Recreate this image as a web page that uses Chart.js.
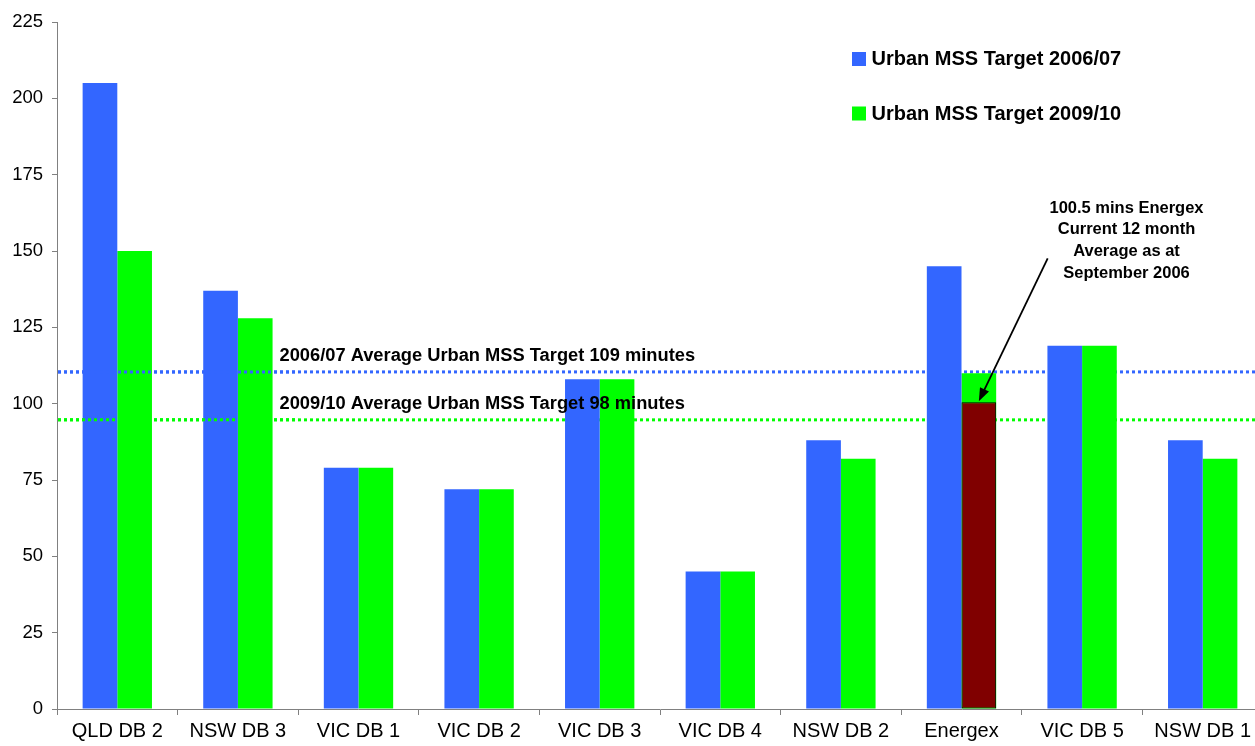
<!DOCTYPE html>
<html>
    <head>
        <meta charset="UTF-8"/>
        <script src="https://cdn.jsdelivr.net/npm/chart.js@4.4.1/dist/chart.umd.min.js"></script>
        <style>
            html, body { margin:0; padding:0; overflow:hidden; background:#fff; }
            canvas { display:block; }
        </style>
    </head>
    <body>
        <canvas id="chart" width="1270" height="746"></canvas>

        <script>
        const categories=['QLD DB 2','NSW DB 3','VIC DB 1','VIC DB 2','VIC DB 3','VIC DB 4','NSW DB 2','Energex','VIC DB 5','NSW DB 1'];
        const target0607=[205,137,79,72,108,45,88,145,119,88];
        const target0910=[150,128,79,72,108,45,82,110,119,82];
        // energex current 12 month average, only one bar
        const energexCurrent=[null,null,null,null,null,null,null,100.5,null,null];
        const avgLines=[110.4,94.7];
        const avgLabels=['2006/07 Average Urban MSS Target 109 minutes','2009/10 Average Urban MSS Target 98 minutes'];
        const legendLabels=['Urban MSS Target 2006/07','Urban MSS Target 2009/10'];
        const noteLines=['100.5 mins Energex','Current 12 month','Average as at','September 2006'];
        const yTicks=[0,25,50,75,100,125,150,175,200,225];

        const BLUE='#3366FF', GREEN='#00FF00', DARKRED='#800000';
        const FONT='"Liberation Sans", Arial, sans-serif';
        const ENERGEX=categories.indexOf('Energex');

        function drawAvgLines(chart, rightLimit){
            const ctx=chart.ctx, area=chart.chartArea, y=chart.scales.y;
            const colors=[BLUE,GREEN];
            ctx.save();
            ctx.beginPath();
            ctx.rect(area.left, area.top, (rightLimit||area.right)-area.left, area.bottom-area.top);
            ctx.clip();
            ctx.lineWidth=3;
            ctx.setLineDash([3,3]);
            avgLines.forEach((v,i)=>{
                const py=y.getPixelForValue(v);
                ctx.strokeStyle=colors[i];
                ctx.beginPath();
                ctx.moveTo(area.left+1, py);
                ctx.lineTo(area.right, py);
                ctx.stroke();
            });
            ctx.restore();
        }

        const extras={
            id:'extras',
            beforeDatasetsDraw(chart){
                drawAvgLines(chart);
            },
            afterDatasetsDraw(chart){
                const ctx=chart.ctx, x=chart.scales.x, y=chart.scales.y;
                // lines sit on top of the first two groups
                drawAvgLines(chart, x.getPixelForValue(1)+x.getPixelForValue(1)-x.getPixelForValue(0.5));

                ctx.save();
                ctx.fillStyle='#000';
                ctx.textBaseline='middle';
                ctx.textAlign='left';
                ctx.font='bold 18.3px '+FONT;
                avgLines.forEach((v,i)=>{
                    ctx.fillText(avgLabels[i], 279.5, y.getPixelForValue(v)-16.3);
                });

                // legend
                const legColors=[BLUE,GREEN];
                ctx.font='bold 20px '+FONT;
                legendLabels.forEach((t,i)=>{
                    const cy=59+i*54.5;
                    ctx.fillStyle=legColors[i];
                    ctx.fillRect(852,cy-7,14,14);
                    ctx.fillStyle='#000';
                    ctx.fillText(t, 871.5, cy+0.5);
                });

                // note text
                ctx.font='bold 16.5px '+FONT;
                ctx.textAlign='center';
                noteLines.forEach((t,i)=>{
                    ctx.fillText(t, 1126.5, 208+i*21.9);
                });

                // arrow to the energex bar
                const bar=chart.getDatasetMeta(1).data[ENERGEX];
                const tx=bar.x, ty=bar.y-1;
                const sx=1047.7, sy=258.3;
                const ang=Math.atan2(ty-sy, tx-sx);
                const hl=13, hw=5;
                ctx.strokeStyle='#000';
                ctx.lineWidth=1.8;
                ctx.beginPath();
                ctx.moveTo(sx,sy);
                ctx.lineTo(tx-Math.cos(ang)*hl*0.8, ty-Math.sin(ang)*hl*0.8);
                ctx.stroke();
                ctx.beginPath();
                ctx.moveTo(tx,ty);
                ctx.lineTo(tx-Math.cos(ang)*hl-Math.sin(ang)*hw, ty-Math.sin(ang)*hl+Math.cos(ang)*hw);
                ctx.lineTo(tx-Math.cos(ang)*hl+Math.sin(ang)*hw, ty-Math.sin(ang)*hl-Math.cos(ang)*hw);
                ctx.closePath();
                ctx.fill();
                ctx.restore();
            }
        };

        const ctx=document.getElementById('chart').getContext('2d');
        const myChart=new Chart(ctx,{
            type:'bar',
            data:{
                labels:categories,
                datasets:[
                    // empty set first so the groups come out blue | green, red drawn over green
                    {label:'', data:categories.map(()=>null), backgroundColor:'rgba(0,0,0,0)', stack:'a'},
                    {label:'Energex current', data:energexCurrent, backgroundColor:DARKRED, borderColor:'#000', borderWidth:1, borderSkipped:false, stack:'b'},
                    {label:legendLabels[0], data:target0607, backgroundColor:BLUE, stack:'a'},
                    {label:legendLabels[1], data:target0910, backgroundColor:GREEN, stack:'b'}
                ]
            },
            options:{
                responsive:false,
                animation:false,
                devicePixelRatio:1,
                categoryPercentage:0.575,
                barPercentage:1,
                layout:{padding:{top:22,right:7,left:0,bottom:0}},
                plugins:{legend:{display:false}, tooltip:{enabled:false}},
                scales:{
                    x:{
                        offset:true,
                        grid:{offset:true, drawOnChartArea:false, drawTicks:true, tickLength:6, color:'#808080'},
                        border:{color:'#808080', width:1},
                        ticks:{color:'#000', font:{family:FONT, size:20}, padding:4, maxRotation:0, autoSkip:false},
                        afterFit(s){ s.height=37; }
                    },
                    y:{
                        min:0,
                        max:225,
                        stacked:false,
                        afterBuildTicks(s){ s.ticks=yTicks.map(v=>({value:v})); },
                        grid:{drawOnChartArea:false, drawTicks:true, tickLength:5, color:'#808080'},
                        border:{color:'#808080', width:1},
                        ticks:{color:'#000', font:{family:FONT, size:18.5}, padding:9},
                        afterFit(s){ s.width=57; }
                    }
                }
            },
            plugins:[extras]
        });
        </script>
    </body>
</html>
